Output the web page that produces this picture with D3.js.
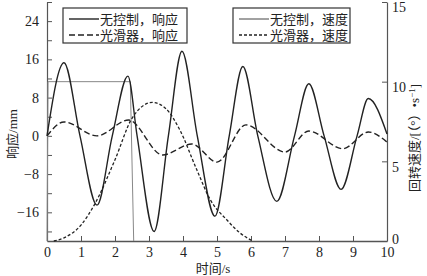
<!DOCTYPE html>
<html>
<head>
<meta charset="utf-8">
<script src="https://cdn.jsdelivr.net/npm/d3@7"></script>
<style>
  body { margin: 0; background: #fff; }
  text { font-family: "Liberation Serif", "Noto Sans CJK SC", serif; fill: #222; }
</style>
</head>
<body>
<svg id="chart" width="427" height="276"></svg>
<script>
// time (s) / value pairs
const respFreeT = [0, 0.5, 0.97, 1.47, 1.92, 2.38, 2.65, 3.15, 3.57, 3.97, 4.42, 4.94, 5.36, 5.76, 6.2, 6.76, 7.28, 7.7, 8.15, 8.65, 9.12, 9.45, 10];
const respFreeV = [0, 15.3, 0, -14.5, 0, 12.5, 0, -20, 0, 17.7, 0, -16.8, 0, 14.5, 0, -13.7, 0, 10.9, 0, -11.2, 0, 7.8, 0.4];

const respSmoothT = [0, 0.5, 1.47, 2.4, 3.4, 4.26, 5.0, 5.85, 7.0, 7.7, 8.7, 9.45, 10];
const respSmoothV = [0, 2.9, 0, 3.3, -4, -1.7, -5.5, 2.3, -3.4, 1, -2.7, 0.8, -1.3];

const speedFreeT = [0, 0.03, 2.45, 2.55];
const speedFreeV = [0, 10, 10, 0];

const speedSmoothT = [0.2, 0.5, 1, 1.4, 2, 2.5, 3.1, 3.5, 3.9, 4.4, 4.8, 5.3, 5.68, 6.05];
const speedSmoothV = [0, 0.2, 1.0, 2.3, 5.1, 7.7, 8.7, 8.3, 7.0, 4.5, 2.6, 1.3, 0.5, 0];

const xTicks = [0, 1, 2, 3, 4, 5, 6, 7, 8, 9, 10];
const leftLabels = [-16, -8, 0, 8, 16, 24];
const rightTicks = [0, 5, 10, 15];

const legendLeft = ["无控制，响应", "光滑器，响应"];
const legendRight = ["无控制，速度", "光滑器，速度"];

const svg = d3.select('#chart');
const plotL = 47, plotR = 387, plotT = 2, plotB = 241;

const x = d3.scaleLinear().domain([0, 10]).range([plotL, plotR]);
const yL = d3.scaleLinear().domain([-22, 28]).range([plotB, plotT]);
const yR = d3.scaleLinear().domain([0, 15]).range([plotB, plotT]);

const zip = (t, v) => t.map((d, i) => [d, v[i]]);

const axisColor = '#555';

// axes
const axisX = svg.append('g').attr('transform', `translate(0,${plotB})`)
  .call(d3.axisBottom(x).tickValues(xTicks).tickSizeInner(-5).tickSizeOuter(0).tickPadding(6));
const axisL = svg.append('g').attr('transform', `translate(${plotL},0)`)
  .call(d3.axisLeft(yL).tickValues(d3.range(-20, 29, 4)).tickSizeInner(-5).tickSizeOuter(0)
    .tickFormat(d => leftLabels.includes(d) ? d3.format('d')(d).replace('-', '−') : '').tickPadding(8));
const axisR = svg.append('g').attr('transform', `translate(${plotR},0)`)
  .call(d3.axisRight(yR).tickValues(rightTicks).tickSizeInner(-5).tickSizeOuter(0).tickPadding(5));

[axisX, axisL, axisR].forEach(g => {
  g.select('.domain').attr('stroke', axisColor).attr('stroke-width', 1.2);
  g.selectAll('.tick line').attr('stroke', axisColor);
  g.selectAll('.tick text')
    .style('font-family', '"Liberation Serif", serif')
    .style('font-size', '14px').attr('fill', '#222');
});
axisR.selectAll('.tick text').attr('dy', d => d === 0 ? '0.2em' : '0.7em');
axisX.select('.domain').attr('stroke-width', 1.6);

// lines
const line = (ys) => d3.line().x(d => x(d[0])).y(d => ys(d[1])).curve(d3.curveMonotoneX);
const lineLin = (ys) => d3.line().x(d => x(d[0])).y(d => ys(d[1]));

svg.append('path').datum(zip(speedFreeT, speedFreeV))
  .attr('d', lineLin(yR)).attr('fill', 'none').attr('stroke', '#888').attr('stroke-width', 1);

svg.append('path').datum(zip(speedSmoothT, speedSmoothV))
  .attr('d', line(yR)).attr('fill', 'none').attr('stroke', '#222')
  .attr('stroke-width', 1.3).attr('stroke-dasharray', '3,2');

svg.append('path').datum(zip(respSmoothT, respSmoothV))
  .attr('d', line(yL)).attr('fill', 'none').attr('stroke', '#222')
  .attr('stroke-width', 1.4).attr('stroke-dasharray', '6,3');

svg.append('path').datum(zip(respFreeT, respFreeV))
  .attr('d', line(yL)).attr('fill', 'none').attr('stroke', '#222').attr('stroke-width', 1.4);

// legends
function legend(x0, w, labels, styles) {
  const g = svg.append('g');
  g.append('rect').attr('x', x0).attr('y', 8).attr('width', w).attr('height', 35)
    .attr('fill', '#fff').attr('stroke', '#333').attr('stroke-width', 1.2);
  labels.forEach((lab, i) => {
    const yy = 19 + i * 16;
    g.append('line').attr('x1', x0 + 6).attr('x2', x0 + 36).attr('y1', yy).attr('y2', yy)
      .attr('stroke', styles[i].c).attr('stroke-width', styles[i].w)
      .attr('stroke-dasharray', styles[i].dash);
    g.append('text').attr('x', x0 + 37).attr('y', yy).attr('dy', '0.35em')
      .style('font-size', '13px').text(lab);
  });
}
legend(63, 124, legendLeft, [{ c: '#222', w: 1.4, dash: null }, { c: '#222', w: 1.4, dash: '6,3' }]);
legend(233, 117, legendRight, [{ c: '#444', w: 1, dash: null }, { c: '#222', w: 1.3, dash: '3,2' }]);

// titles
svg.append('text').attr('x', 213).attr('y', 268).attr('dy', '0.35em')
  .attr('text-anchor', 'middle').style('font-size', '13px').text('时间/s');
svg.append('text').attr('transform', 'translate(12,134) rotate(-90)').attr('dy', '0.35em')
  .attr('text-anchor', 'middle').style('font-size', '13px').text('响应/mm');
const rt = svg.append('text').attr('transform', 'translate(414,138) rotate(-90)').attr('dy', '0.35em')
  .attr('text-anchor', 'middle').style('font-size', '13px');
rt.append('tspan').text('回转速度/[（°）•s');
rt.append('tspan').attr('dy', '-0.4em').style('font-size', '9px').text('−1');
rt.append('tspan').attr('dy', '0.4em').text(']');
</script>
</body>
</html>
